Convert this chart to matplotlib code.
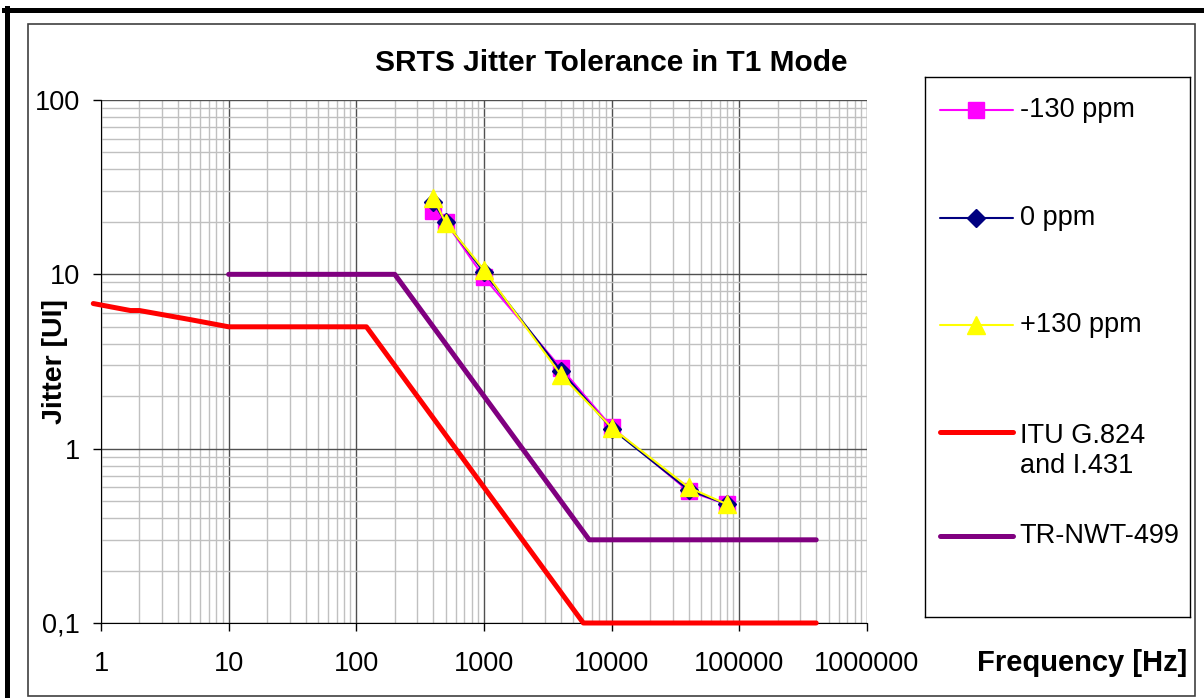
import numpy as np
import matplotlib
matplotlib.use("Agg")
import matplotlib.pyplot as plt
from matplotlib.patches import Rectangle
from matplotlib.lines import Line2D
from matplotlib.ticker import FixedLocator, FuncFormatter, NullFormatter

plt.rcParams["font.family"] = ["Liberation Sans", "DejaVu Sans"]

# measured tolerance points (Hz, UI)
freq_meas = [400, 500, 1000, 4000, 10000, 40000, 80000]
jit_m130 = [23, 20, 9.6, 2.9, 1.33, 0.57, 0.48]
jit_0 = [26, 20, 10.3, 2.8, 1.3, 0.58, 0.48]
jit_p130 = [27.5, 19.8, 10.6, 2.65, 1.32, 0.6, 0.48]

# standard masks
itu_freq = [0.87, 1.7, 2, 5, 10, 120, 200, 400, 1000, 6000, 400000]
itu_jit = [6.8, 6.2, 6.2, 5.5, 5, 5, 3, 1.5, 0.6, 0.1, 0.1]
tr_freq = [10, 200, 500, 1000, 2000, 6667, 400000]
tr_jit = [10, 10, 4, 2, 1, 0.3, 0.3]

x_ticks = [1, 10, 100, 1000, 10000, 100000, 1000000]
y_ticks = [0.1, 1, 10, 100]
y_ticklabels = ["0,1", "1", "10", "100"]

W, H = 1204, 698
fig = plt.figure(figsize=(W / 100, H / 100), dpi=100)

# chart border and the heavy top/left edge
fig.add_artist(Rectangle((28 / W, 1 - 696 / H), (1195 - 28) / W, (696 - 24) / H,
                         transform=fig.transFigure, fill=False, ec="#404040", lw=1.2))
fig.add_artist(Line2D([4 / W, 1], [1 - 10 / H, 1 - 10 / H], transform=fig.transFigure,
                      color="black", lw=3.6))
fig.add_artist(Line2D([6.5 / W, 6.5 / W], [0, 1 - 8 / H], transform=fig.transFigure,
                      color="black", lw=3.6))

ax = fig.add_axes([101 / W, 1 - 623 / H, (867 - 101) / W, (623 - 100) / H])
ax.set_xscale("log")
ax.set_yscale("log")
ax.set_xlim(1, 1e6)
ax.set_ylim(0.1, 100)

minor_x = [m * 10 ** e for e in range(0, 6) for m in range(2, 10)]
minor_y = [m * 10 ** e for e in range(-1, 2) for m in range(2, 10)]
ax.xaxis.set_major_locator(FixedLocator(x_ticks))
ax.yaxis.set_major_locator(FixedLocator(y_ticks))
ax.xaxis.set_minor_locator(FixedLocator(minor_x))
ax.yaxis.set_minor_locator(FixedLocator(minor_y))
ax.xaxis.set_minor_formatter(NullFormatter())
ax.yaxis.set_minor_formatter(NullFormatter())
ax.xaxis.set_major_formatter(FuncFormatter(lambda v, p: f"{v:.0f}"))
ax.set_yticklabels(y_ticklabels)

ax.grid(which="minor", color="#c0c0c0", lw=1.0)
ax.grid(which="major", color="#505050", lw=1.0)
ax.set_axisbelow(True)
ax.tick_params(which="major", direction="out", length=6, width=1, labelsize=19.5)
ax.tick_params(axis="x", pad=14)
ax.tick_params(axis="y", pad=9)
ax.tick_params(which="minor", length=0)
for s in ["top", "right"]:
    ax.spines[s].set_visible(False)
for s in ["left", "bottom"]:
    ax.spines[s].set_color("black")

ax.plot(itu_freq, itu_jit, color="#ff0000", lw=3.6, solid_capstyle="round",
        solid_joinstyle="round", clip_on=False, zorder=3)
ax.plot(tr_freq, tr_jit, color="#800080", lw=3.6, solid_capstyle="round",
        solid_joinstyle="round", zorder=3)
ax.plot(freq_meas, jit_m130, color="#ff00ff", lw=1.5, marker="s", ms=12,
        mec="#ff00ff", zorder=4)
ax.plot(freq_meas, jit_0, color="#000080", lw=1.5, marker="D", ms=9,
        mec="#000080", zorder=5)
ax.plot(freq_meas, jit_p130, color="#ffff00", lw=1.5, marker="^", ms=13,
        mec="#ffff00", zorder=6)

ax.set_ylabel("Jitter [UI]", fontsize=20.5, fontweight="bold")
ax.yaxis.set_label_coords((55 - 101) / 766, 0.5)
ax.yaxis.label.set_va("center")
fig.text(1082 / W, 1 - 663 / H, "Frequency [Hz]", fontsize=21, fontweight="bold",
         ha="center", va="center")
fig.text(611.5 / W, 1 - 63 / H, "SRTS Jitter Tolerance in T1 Mode", fontsize=21.5,
         fontweight="bold", ha="center", va="center")

# legend panel
lax = fig.add_axes([925 / W, 1 - 617 / H, (1190 - 925) / W, (617 - 77) / H])
lax.set_xlim(0, 1)
lax.set_ylim(0, 1)
lax.set_xticks([])
lax.set_yticks([])
for s in lax.spines.values():
    s.set_color("black")
    s.set_linewidth(1)

entries = [
    ("-130 ppm", "#ff00ff", 1.5, "s", 12, 0.939),
    ("0 ppm", "#000080", 1.5, "D", 9, 0.739),
    ("+130 ppm", "#ffff00", 1.5, "^", 13, 0.541),
    ("ITU G.824\nand I.431", "#ff0000", 3.6, None, 0, 0.343),
    ("TR-NWT-499", "#800080", 3.6, None, 0, 0.150),
]
for label, col, lw, mk, ms, yy in entries:
    lax.plot([0.057, 0.332], [yy, yy], color=col, lw=lw, solid_capstyle="round")
    if mk:
        lax.plot([0.194], [yy], marker=mk, ms=ms, color=col, mec=col)
    if "\n" in label:
        lax.text(0.358, yy + 0.016, label, fontsize=19.5, va="top", ha="left",
                 linespacing=1.2)
    else:
        lax.text(0.358, yy, label, fontsize=19.5, va="center", ha="left")

fig.savefig("out.png", dpi=100)
